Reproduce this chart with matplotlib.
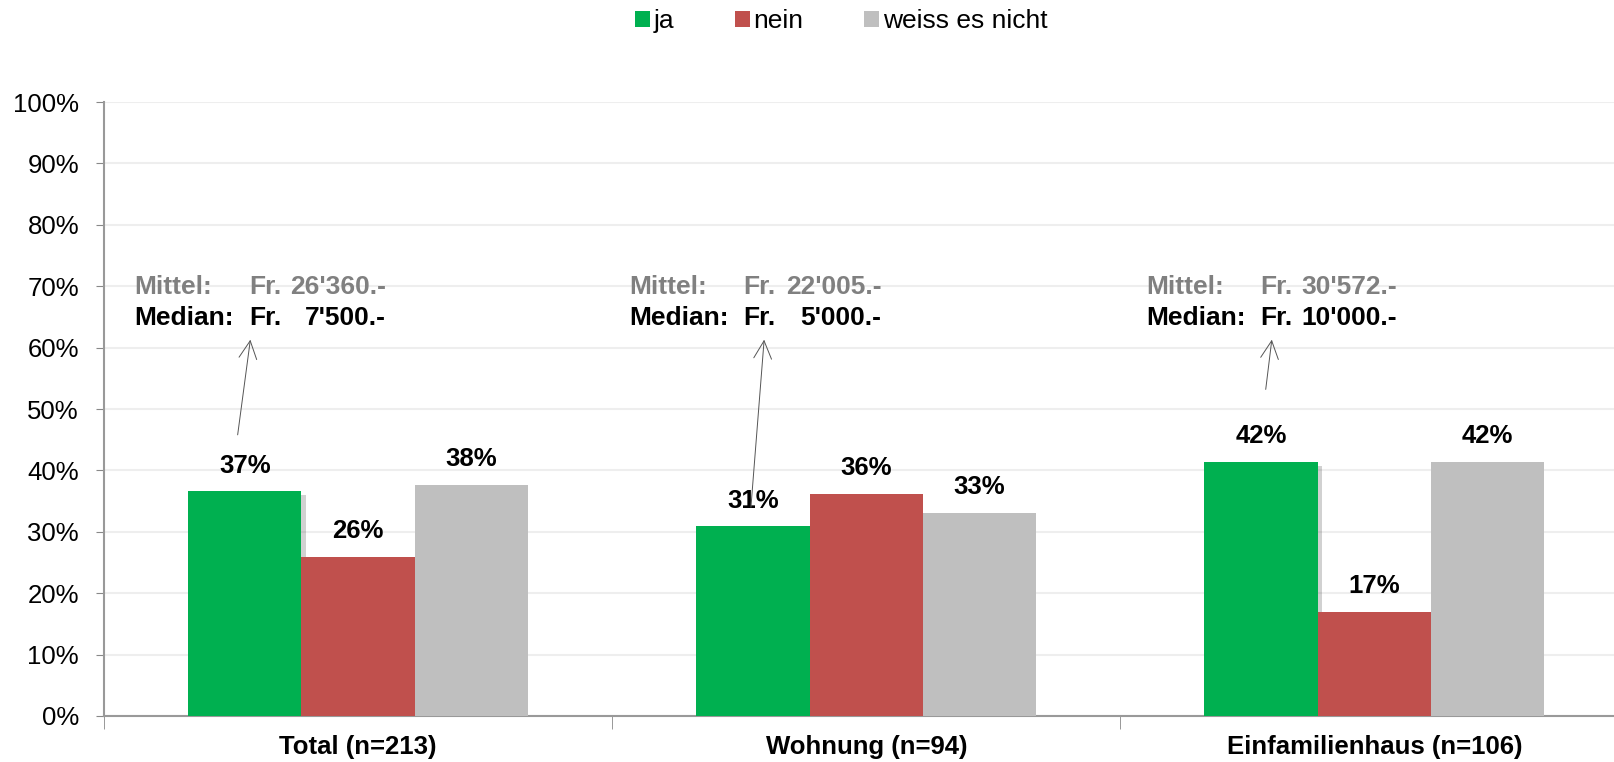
import numpy as np
import matplotlib
matplotlib.use("Agg")
import matplotlib.pyplot as plt
import matplotlib.patheffects as pe
from matplotlib.patches import Patch

plt.rcParams['font.family'] = ['Liberation Sans', 'DejaVu Sans']

# data
categories = ['Total (n=213)', 'Wohnung (n=94)', 'Einfamilienhaus (n=106)']
series = ['ja', 'nein', 'weiss es nicht']
ja = [0.366, 0.309, 0.414]
nein = [0.259, 0.362, 0.170]
weiss = [0.376, 0.331, 0.414]
labels_ja = ['37%', '31%', '42%']
labels_nein = ['26%', '36%', '17%']
labels_weiss = ['38%', '33%', '42%']
mittel = ["26'360.-", "22'005.-", "30'572.-"]
median = ["7'500.-", "5'000.-", "10'000.-"]
colors = ['#00B050', '#C0504D', '#BFBFBF']

fig = plt.figure(figsize=(16.15, 7.62), dpi=100)
ax = fig.add_axes([0.0644, 0.0604, 0.944, 0.8056])

x = np.arange(len(categories))
w = 0.223
values = [ja, nein, weiss]
labs = [labels_ja, labels_nein, labels_weiss]
for i, (vals, col, name) in enumerate(zip(values, colors, series)):
    bars = ax.bar(x + (i - 1) * w, vals, w, color=col, zorder=3)
    if i == 0:
        for b in bars:
            b.set_path_effects([pe.SimplePatchShadow(offset=(3, -3), alpha=0.18, shadow_rgbFace='k'), pe.Normal()])
    for xi, v, t in zip(x + (i - 1) * w, vals, labs[i]):
        ax.text(xi, v + 0.042, t, ha='center', va='center', fontsize=18.5, fontweight='bold')

# annotation boxes (Mittel / Median)
text_x = [-0.441, 0.533, 1.551]
fr_x = [-0.214, 0.758, 1.776]
end_x = [0.055, 1.030, 2.045]
arrow_tail = [(-0.237, 0.458), (0.773, 0.340), (1.786, 0.532)]
arrow_head = [(-0.212, 0.613), (0.799, 0.613), (1.798, 0.613)]
for k in range(3):
    ax.text(text_x[k], 0.698, 'Mittel:', color='#808080', fontsize=19, fontweight='bold', va='center')
    ax.text(fr_x[k], 0.698, 'Fr.', color='#808080', fontsize=19, fontweight='bold', va='center')
    ax.text(end_x[k], 0.698, mittel[k], color='#808080', fontsize=19, fontweight='bold', va='center', ha='right')
    ax.text(text_x[k], 0.649, 'Median:', color='black', fontsize=19, fontweight='bold', va='center')
    ax.text(fr_x[k], 0.649, 'Fr.', color='black', fontsize=19, fontweight='bold', va='center')
    ax.text(end_x[k], 0.649, median[k], color='black', fontsize=19, fontweight='bold', va='center', ha='right')
    ax.annotate('', xy=arrow_head[k], xytext=arrow_tail[k],
                arrowprops=dict(arrowstyle='->', color='#555555', lw=0.7,
                                mutation_scale=32, shrinkA=0, shrinkB=0))

ax.set_xlim(-0.5, 2.5)
ax.set_ylim(0, 1.0)
yt = np.arange(0, 1.01, 0.1)
ax.set_yticks(yt)
ax.set_yticklabels([f'{int(round(t * 100))}%' for t in yt], fontsize=18.5)
ax.set_xticks(x)
ax.set_xticklabels(categories, fontsize=18.5, fontweight='bold')
ax.tick_params(axis='x', length=0, pad=14)
ax.set_xticks([-0.5, 0.5, 1.5, 2.5], minor=True)
ax.tick_params(axis='x', which='minor', length=9, color='#888888', direction='out')
ax.tick_params(axis='y', length=6, color='#888888', direction='out', pad=12)
ax.grid(axis='y', color='#EEEEEE', lw=1.5, zorder=0)
for s in ['top', 'right']:
    ax.spines[s].set_visible(False)
for s in ['left', 'bottom']:
    ax.spines[s].set_color('#999999')
    ax.spines[s].set_linewidth(1.5)

handles = [Patch(facecolor=c, label=s) for c, s in zip(colors, series)]
fig.legend(handles=handles, loc='center', bbox_to_anchor=(0.521, 0.972), ncol=3, frameon=False,
           fontsize=19, handlelength=0.55, handleheight=0.55, handletextpad=0.15, columnspacing=2.3)

fig.savefig('out.png', dpi=100)
